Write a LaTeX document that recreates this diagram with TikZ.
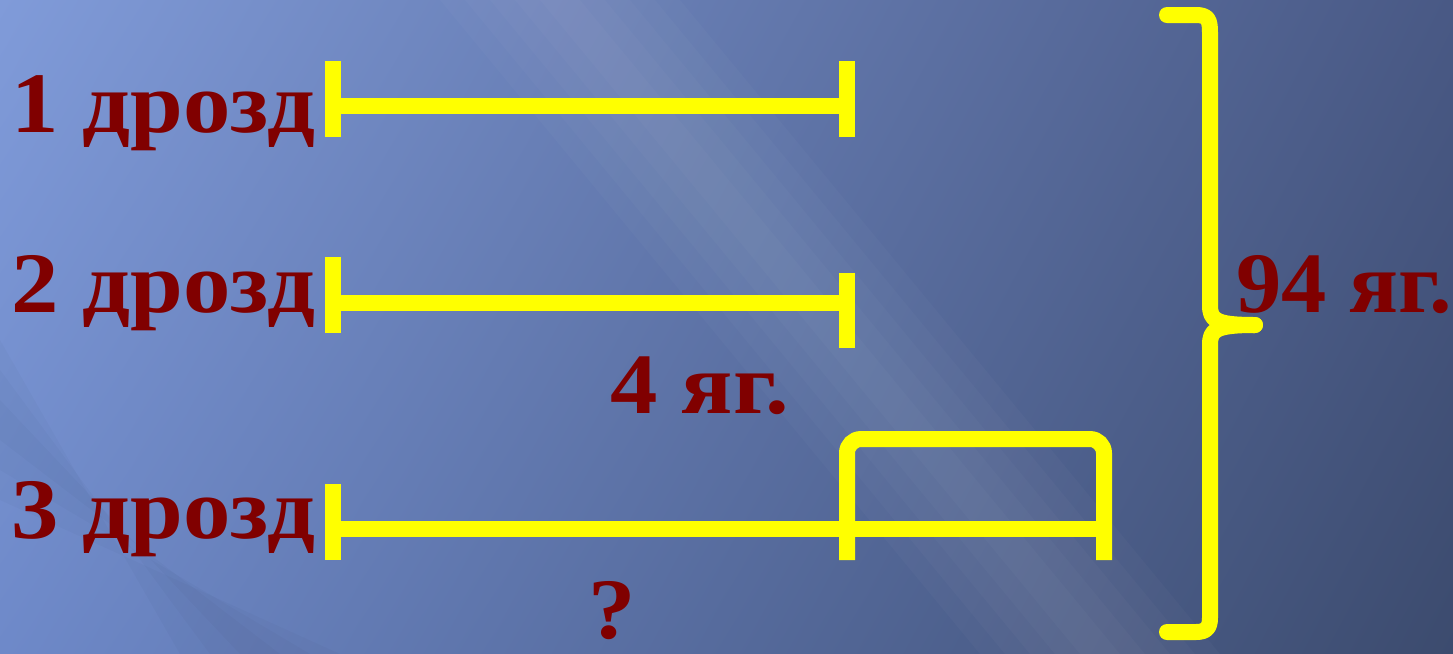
\documentclass[tikz,border=0pt]{standalone}
\usepackage{fontspec}
\setmainfont[FakeStretch=1.1]{Liberation Serif}
\newfontfamily\narrowserif[FakeStretch=1.05]{Liberation Serif}
\usetikzlibrary{shadings}
\definecolor{bgTL}{HTML}{809BD9}
\definecolor{bgTR}{HTML}{495985}
\definecolor{bgBL}{HTML}{6E89C9}
\definecolor{bgBR}{HTML}{3C4B6E}
\definecolor{txtred}{HTML}{800000}
\definecolor{segyellow}{HTML}{FFFF00}
\tikzset{
  seg/.style={draw=segyellow, line width=4.55pt},
  lbl/.style={text=txtred, font=\fontsize{24.5pt}{28pt}\selectfont\bfseries, inner sep=0pt},
}
\begin{document}
\begin{tikzpicture}[x=0.01cm, y=-0.01cm]
\useasboundingbox (0,0) rectangle (1453,654);
% background
\shade[upper left=bgTL, upper right=bgTR, lower left=bgBL, lower right=bgBR] (0,0) rectangle (1453,654);
\foreach \w in {20,45,70,95,120}{
  \fill[white, opacity=0.025] (560-\w,0) -- (560+\w,0) -- (1100+\w,654) -- (1100-\w,654) -- cycle;
}
\foreach \w in {20,50,80}{
  \fill[black, opacity=0.02] (0,420-\w) -- (0,420+\w) -- (260+\w,654) -- (260-\w,654) -- cycle;
}

% labels
\node[lbl, anchor=base east] (l1) at (316,132) {1 дрозд};
\node[lbl, anchor=base east] (l2) at (316,312) {2 дрозд};
\node[lbl, anchor=base east] (l3) at (316,538) {3 дрозд};
\node[lbl, anchor=base] (l4) at (700,413) {4 яг.};
\node[lbl, anchor=base] (lq) at (612,638) {?};
\node[lbl, anchor=base west] (l94) at (1236,312) {\narrowserif\bfseries 94 яг.};

% segment 1
\coordinate (a1) at (333,106);
\coordinate (b1) at (847,106);
\draw[seg] (a1) -- (b1);
\draw[seg] (333,61) -- (333,137);
\draw[seg] (847,61) -- (847,137);

% segment 2
\coordinate (a2) at (333,303);
\coordinate (b2) at (847,303);
\draw[seg] (a2) -- (b2);
\draw[seg] (333,257) -- (333,333);
\draw[seg] (847,273) -- (847,348);

% segment 3
\coordinate (a3) at (333,529);
\coordinate (m3) at (847,529);
\coordinate (b3) at (1104,529);
\draw[seg] (a3) -- (b3);
\draw[seg] (333,484) -- (333,560);
\draw[seg, rounded corners=4pt] (847,560) -- (847,439) -- (1104,439) -- (1104,560);

% brace
\coordinate (tip) at (1255,325);
\draw[seg, line cap=round, line join=round] (1167,15) -- (1196,15) .. controls (1208,15) and (1210,20) .. (1210,32) -- (1210,305) .. controls (1210,320) and (1215,325) .. (tip);
\draw[seg, line cap=round, line join=round] (tip) .. controls (1215,325) and (1210,330) .. (1210,345) -- (1210,618) .. controls (1210,628) and (1206,632) .. (1196,632) -- (1167,632);
\end{tikzpicture}
\end{document}
